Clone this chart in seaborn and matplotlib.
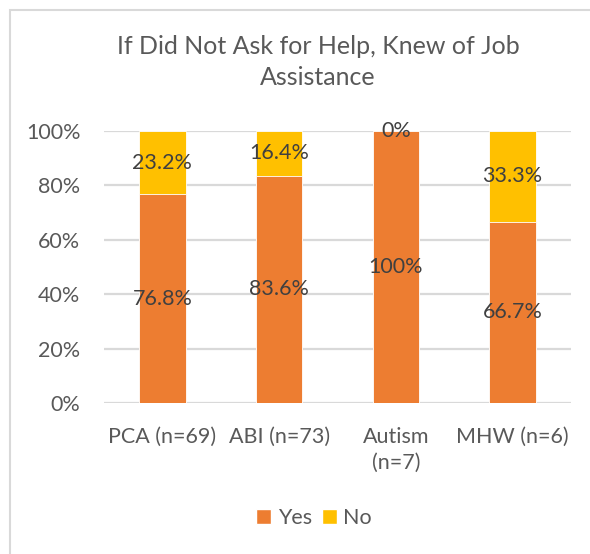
import matplotlib
matplotlib.use("Agg")
import matplotlib.pyplot as plt
import seaborn as sns
import pandas as pd
from matplotlib.patches import Rectangle, Patch

categories = ["PCA (n=69)", "ABI (n=73)", "Autism\n(n=7)", "MHW (n=6)"]
yes_pct = [76.8, 83.6, 100.0, 66.7]
no_pct = [23.2, 16.4, 0.0, 33.3]
yes_labels = ["76.8%", "83.6%", "100%", "66.7%"]
no_labels = ["23.2%", "16.4%", "0%", "33.3%"]
y_ticks = [0, 20, 40, 60, 80, 100]

ORANGE = "#ED7D31"
YELLOW = "#FFC000"
GRID = "#D9D9D9"
TEXT = "#595959"
LABEL = "#404040"
FS = 15.5

sns.set_theme(style="white")
plt.rcParams["font.family"] = ["Lato", "DejaVu Sans"]

df = pd.DataFrame({
    "category": categories,
    "yes": yes_pct,
    "total": [y + n for y, n in zip(yes_pct, no_pct)],
})

fig = plt.figure(figsize=(5.9, 5.54), dpi=100)
ax = fig.add_axes([104 / 590, 1 - 403 / 554, (571 - 104) / 590, (403 - 131) / 554])

# stacked bars: full height in yellow, the "Yes" share drawn over it in orange
sns.barplot(data=df, x="category", y="total", color=YELLOW, width=0.4,
            saturation=1, edgecolor="white", linewidth=0.6, ax=ax, zorder=2)
sns.barplot(data=df, x="category", y="yes", color=ORANGE, width=0.4,
            saturation=1, edgecolor="white", linewidth=0.6, ax=ax, zorder=3)

ax.set_xlim(-0.5, len(categories) - 0.5)
ax.set_ylim(0, 100)
ax.set_yticks(y_ticks)
ax.set_yticklabels([f"{t}%" for t in y_ticks])
ax.yaxis.grid(True, color=GRID, linewidth=1.6, zorder=0)
ax.set_axisbelow(True)
for s in ax.spines.values():
    s.set_visible(False)
ax.tick_params(axis="both", length=0, labelsize=FS, labelcolor=TEXT)
ax.tick_params(axis="y", pad=17)
ax.tick_params(axis="x", pad=17)
ax.set_xlabel("")
ax.set_ylabel("")
for lbl in ax.get_xticklabels():
    lbl.set_linespacing(1.4)
    lbl.set_verticalalignment("top")

# segment value labels
for i, (y, n) in enumerate(zip(yes_pct, no_pct)):
    ax.text(i, y / 2, yes_labels[i], ha="center", va="center",
            fontsize=FS, color=LABEL, zorder=5)
    ax.text(i, y + n / 2, no_labels[i], ha="center", va="center",
            fontsize=FS, color=LABEL, zorder=5)

fig.text(318 / 590, 1 - 62 / 554, "If Did Not Ask for Help, Knew of Job\nAssistance",
         ha="center", va="center", fontsize=18, color=TEXT, linespacing=1.42)

handles = [Patch(facecolor=ORANGE, label="Yes"), Patch(facecolor=YELLOW, label="No")]
fig.legend(handles=handles, loc="center", bbox_to_anchor=(314 / 590, 1 - 518 / 554),
           ncol=2, frameon=False, fontsize=FS, handlelength=0.7, handleheight=0.7,
           handletextpad=0.3, columnspacing=0.45, labelcolor=TEXT)

# chart area border
fig.patches.append(Rectangle((10 / 590, -0.1), 1.0, 1 - 10 / 554 + 0.1,
                             transform=fig.transFigure, fill=False,
                             edgecolor=GRID, linewidth=1.5))

fig.savefig("out.png", dpi=100, facecolor="white")
